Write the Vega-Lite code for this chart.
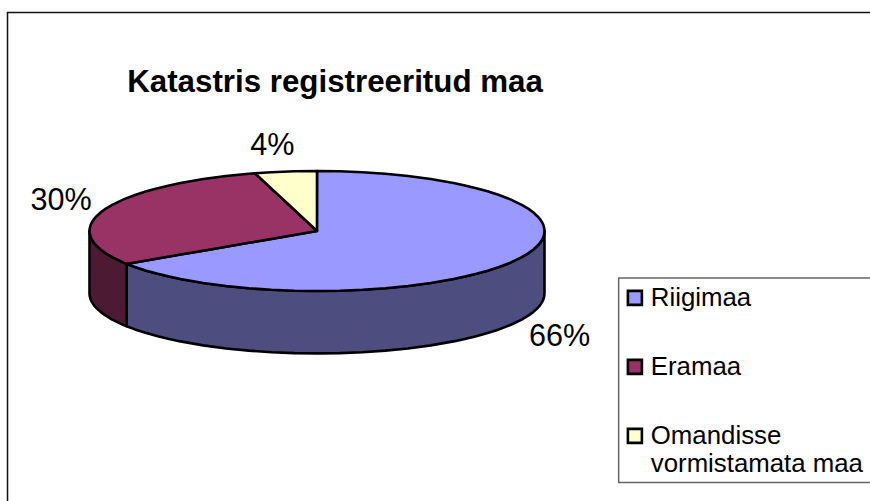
{"$schema":"https://vega.github.io/schema/vega-lite/v6.json","width":870,"height":501,"padding":0,"autosize":"none","background":"white","view":{"stroke":null},
"title":{"text":"Katastris registreeritud maa","font":"Liberation Sans","fontSize":31.3,"fontWeight":"bold","color":"black","anchor":"middle","frame":"group","offset":0,"baseline":"alphabetic","dy":123,"dx":-100},
"datasets":{"faces":[
{"p":"Riigimaa külg","u":-0.8365,"a":-0.548,"b":-1.588},{"p":"Riigimaa külg","u":-0.8,"a":-0.6,"b":-1.64},{"p":"Riigimaa külg","u":-0.75,"a":-0.661,"b":-1.701},{"p":"Riigimaa külg","u":-0.7,"a":-0.714,"b":-1.754},{"p":"Riigimaa külg","u":-0.65,"a":-0.76,"b":-1.8},{"p":"Riigimaa külg","u":-0.6,"a":-0.8,"b":-1.84},{"p":"Riigimaa külg","u":-0.5,"a":-0.866,"b":-1.906},{"p":"Riigimaa külg","u":-0.4,"a":-0.917,"b":-1.957},{"p":"Riigimaa külg","u":-0.3,"a":-0.954,"b":-1.994},{"p":"Riigimaa külg","u":-0.2,"a":-0.98,"b":-2.02},{"p":"Riigimaa külg","u":-0.1,"a":-0.995,"b":-2.035},{"p":"Riigimaa külg","u":0,"a":-1,"b":-2.04},{"p":"Riigimaa külg","u":0.1,"a":-0.995,"b":-2.035},{"p":"Riigimaa külg","u":0.2,"a":-0.98,"b":-2.02},{"p":"Riigimaa külg","u":0.3,"a":-0.954,"b":-1.994},{"p":"Riigimaa külg","u":0.4,"a":-0.917,"b":-1.957},{"p":"Riigimaa külg","u":0.5,"a":-0.866,"b":-1.906},{"p":"Riigimaa külg","u":0.6,"a":-0.8,"b":-1.84},{"p":"Riigimaa külg","u":0.65,"a":-0.76,"b":-1.8},{"p":"Riigimaa külg","u":0.7,"a":-0.714,"b":-1.754},{"p":"Riigimaa külg","u":0.75,"a":-0.661,"b":-1.701},{"p":"Riigimaa külg","u":0.8,"a":-0.6,"b":-1.64},{"p":"Riigimaa külg","u":0.85,"a":-0.527,"b":-1.567},{"p":"Riigimaa külg","u":0.9,"a":-0.436,"b":-1.476},{"p":"Riigimaa külg","u":0.93,"a":-0.368,"b":-1.408},{"p":"Riigimaa külg","u":0.95,"a":-0.312,"b":-1.352},{"p":"Riigimaa külg","u":0.97,"a":-0.243,"b":-1.283},{"p":"Riigimaa külg","u":0.98,"a":-0.199,"b":-1.239},{"p":"Riigimaa külg","u":0.99,"a":-0.141,"b":-1.181},{"p":"Riigimaa külg","u":0.995,"a":-0.1,"b":-1.14},{"p":"Riigimaa külg","u":0.999,"a":-0.045,"b":-1.085},{"p":"Riigimaa külg","u":1,"a":0,"b":-1.04},
{"p":"Eramaa külg","u":-1,"a":0,"b":-1.04},{"p":"Eramaa külg","u":-0.999,"a":-0.045,"b":-1.085},{"p":"Eramaa külg","u":-0.995,"a":-0.1,"b":-1.14},{"p":"Eramaa külg","u":-0.99,"a":-0.141,"b":-1.181},{"p":"Eramaa külg","u":-0.98,"a":-0.199,"b":-1.239},{"p":"Eramaa külg","u":-0.97,"a":-0.243,"b":-1.283},{"p":"Eramaa külg","u":-0.95,"a":-0.312,"b":-1.352},{"p":"Eramaa külg","u":-0.93,"a":-0.368,"b":-1.408},{"p":"Eramaa külg","u":-0.9,"a":-0.436,"b":-1.476},{"p":"Eramaa külg","u":-0.85,"a":-0.527,"b":-1.567},{"p":"Eramaa külg","u":-0.8365,"a":-0.548,"b":-1.588},
{"p":"Riigimaa","u":-0.8365,"a":-0.548,"b":-0.548},{"p":"Riigimaa","u":-0.8,"a":-0.524,"b":-0.6},{"p":"Riigimaa","u":-0.75,"a":-0.491,"b":-0.661},{"p":"Riigimaa","u":-0.7,"a":-0.459,"b":-0.714},{"p":"Riigimaa","u":-0.65,"a":-0.426,"b":-0.76},{"p":"Riigimaa","u":-0.6,"a":-0.393,"b":-0.8},{"p":"Riigimaa","u":-0.5,"a":-0.328,"b":-0.866},{"p":"Riigimaa","u":-0.4,"a":-0.262,"b":-0.917},{"p":"Riigimaa","u":-0.3,"a":-0.197,"b":-0.954},{"p":"Riigimaa","u":-0.2,"a":-0.131,"b":-0.98},{"p":"Riigimaa","u":-0.1,"a":-0.066,"b":-0.995},{"p":"Riigimaa","u":-0.001,"a":0,"b":-1},{"p":"Riigimaa","u":0,"a":1,"b":-1},{"p":"Riigimaa","u":0.1,"a":0.995,"b":-0.995},{"p":"Riigimaa","u":0.2,"a":0.98,"b":-0.98},{"p":"Riigimaa","u":0.3,"a":0.954,"b":-0.954},{"p":"Riigimaa","u":0.4,"a":0.917,"b":-0.917},{"p":"Riigimaa","u":0.5,"a":0.866,"b":-0.866},{"p":"Riigimaa","u":0.6,"a":0.8,"b":-0.8},{"p":"Riigimaa","u":0.65,"a":0.76,"b":-0.76},{"p":"Riigimaa","u":0.7,"a":0.714,"b":-0.714},{"p":"Riigimaa","u":0.75,"a":0.661,"b":-0.661},{"p":"Riigimaa","u":0.8,"a":0.6,"b":-0.6},{"p":"Riigimaa","u":0.85,"a":0.527,"b":-0.527},{"p":"Riigimaa","u":0.9,"a":0.436,"b":-0.436},{"p":"Riigimaa","u":0.93,"a":0.368,"b":-0.368},{"p":"Riigimaa","u":0.95,"a":0.312,"b":-0.312},{"p":"Riigimaa","u":0.97,"a":0.243,"b":-0.243},{"p":"Riigimaa","u":0.98,"a":0.199,"b":-0.199},{"p":"Riigimaa","u":0.99,"a":0.141,"b":-0.141},{"p":"Riigimaa","u":0.995,"a":0.1,"b":-0.1},{"p":"Riigimaa","u":0.999,"a":0.045,"b":-0.045},{"p":"Riigimaa","u":1,"a":0,"b":0},
{"p":"Eramaa","u":-1,"a":0,"b":0},{"p":"Eramaa","u":-0.999,"a":0.045,"b":-0.045},{"p":"Eramaa","u":-0.995,"a":0.1,"b":-0.1},{"p":"Eramaa","u":-0.99,"a":0.141,"b":-0.141},{"p":"Eramaa","u":-0.98,"a":0.199,"b":-0.199},{"p":"Eramaa","u":-0.97,"a":0.243,"b":-0.243},{"p":"Eramaa","u":-0.95,"a":0.312,"b":-0.312},{"p":"Eramaa","u":-0.93,"a":0.368,"b":-0.368},{"p":"Eramaa","u":-0.9,"a":0.436,"b":-0.436},{"p":"Eramaa","u":-0.85,"a":0.527,"b":-0.527},{"p":"Eramaa","u":-0.8365,"a":0.548,"b":-0.548},{"p":"Eramaa","u":-0.8,"a":0.6,"b":-0.524},{"p":"Eramaa","u":-0.75,"a":0.661,"b":-0.491},{"p":"Eramaa","u":-0.7,"a":0.714,"b":-0.459},{"p":"Eramaa","u":-0.65,"a":0.76,"b":-0.426},{"p":"Eramaa","u":-0.6,"a":0.8,"b":-0.393},{"p":"Eramaa","u":-0.5,"a":0.866,"b":-0.328},{"p":"Eramaa","u":-0.4,"a":0.917,"b":-0.262},{"p":"Eramaa","u":-0.3,"a":0.954,"b":-0.197},{"p":"Eramaa","u":-0.2725,"a":0.962,"b":-0.178},{"p":"Eramaa","u":0,"a":0,"b":0},
{"p":"Omandisse vormistamata maa","u":-0.2725,"a":0.962,"b":0.962},{"p":"Omandisse vormistamata maa","u":-0.2,"a":0.98,"b":0.706},{"p":"Omandisse vormistamata maa","u":-0.1,"a":0.995,"b":0.353},{"p":"Omandisse vormistamata maa","u":0,"a":1,"b":0}
],
"labels":[{"t":"66%","u":1.066,"v":-1.917},{"t":"30%","u":-1.125,"v":0.35},{"t":"4%","u":-0.196,"v":1.267}],
"frames":[{"n":"chart","x1":-1.3604,"x2":3,"y1":3.642,"y2":-6},{"n":"legend","x1":1.326,"x2":3,"y1":-0.783,"y2":-4.19}]},
"layer":[
{"data":{"name":"frames"},"mark":{"type":"rect","clip":true,"fill":null,"fillOpacity":0},"encoding":{"x":{"field":"x1","type":"quantitative","scale":{"domain":[-1.3934,2.4308],"nice":false,"zero":false},"axis":null},"x2":{"field":"x2"},"y":{"field":"y1","type":"quantitative","scale":{"domain":[-4.5,3.85],"nice":false,"zero":false},"axis":null},"y2":{"field":"y2"},"stroke":{"field":"n","type":"nominal","scale":{"domain":["chart","legend"],"range":["#111111","#666666"]},"legend":null},"strokeWidth":{"value":1.5}}},
{"data":{"name":"faces"},"mark":{"type":"area","orient":"vertical","stroke":"black","strokeWidth":2.6,"strokeJoin":"round","interpolate":"linear","opacity":1},"encoding":{"x":{"field":"u","type":"quantitative"},"y":{"field":"a","type":"quantitative"},"y2":{"field":"b"},"color":{"field":"p","type":"nominal","scale":{"domain":["Riigimaa","Eramaa","Omandisse vormistamata maa","Riigimaa külg","Eramaa külg"],"range":["#9999FF","#993366","#FFFFCC","#4D4D80","#4D1A33"]},"legend":{"values":["Riigimaa","Eramaa","Omandisse vormistamata maa"],"title":null,"orient":"none","legendX":622,"legendY":285,"symbolType":"square","symbolSize":196,"symbolStrokeColor":"black","symbolStrokeWidth":2.6,"symbolOpacity":1,"labelFont":"Liberation Sans","labelFontSize":25.8,"labelColor":"black","labelLimit":300,"labelOffset":3,"rowPadding":42,"zindex":1,"encoding":{"labels":{"update":{"lineHeight":{"value":32}}}},"labelExpr":"datum.label=='Omandisse vormistamata maa'?['Omandisse','vormistamata maa']:datum.label"}}}},
{"data":{"name":"labels"},"mark":{"type":"text","font":"Liberation Sans","fontSize":30.6,"color":"black","align":"center","baseline":"alphabetic"},"encoding":{"x":{"field":"u","type":"quantitative"},"y":{"field":"v","type":"quantitative"},"text":{"field":"t","type":"nominal"}}}
]}
